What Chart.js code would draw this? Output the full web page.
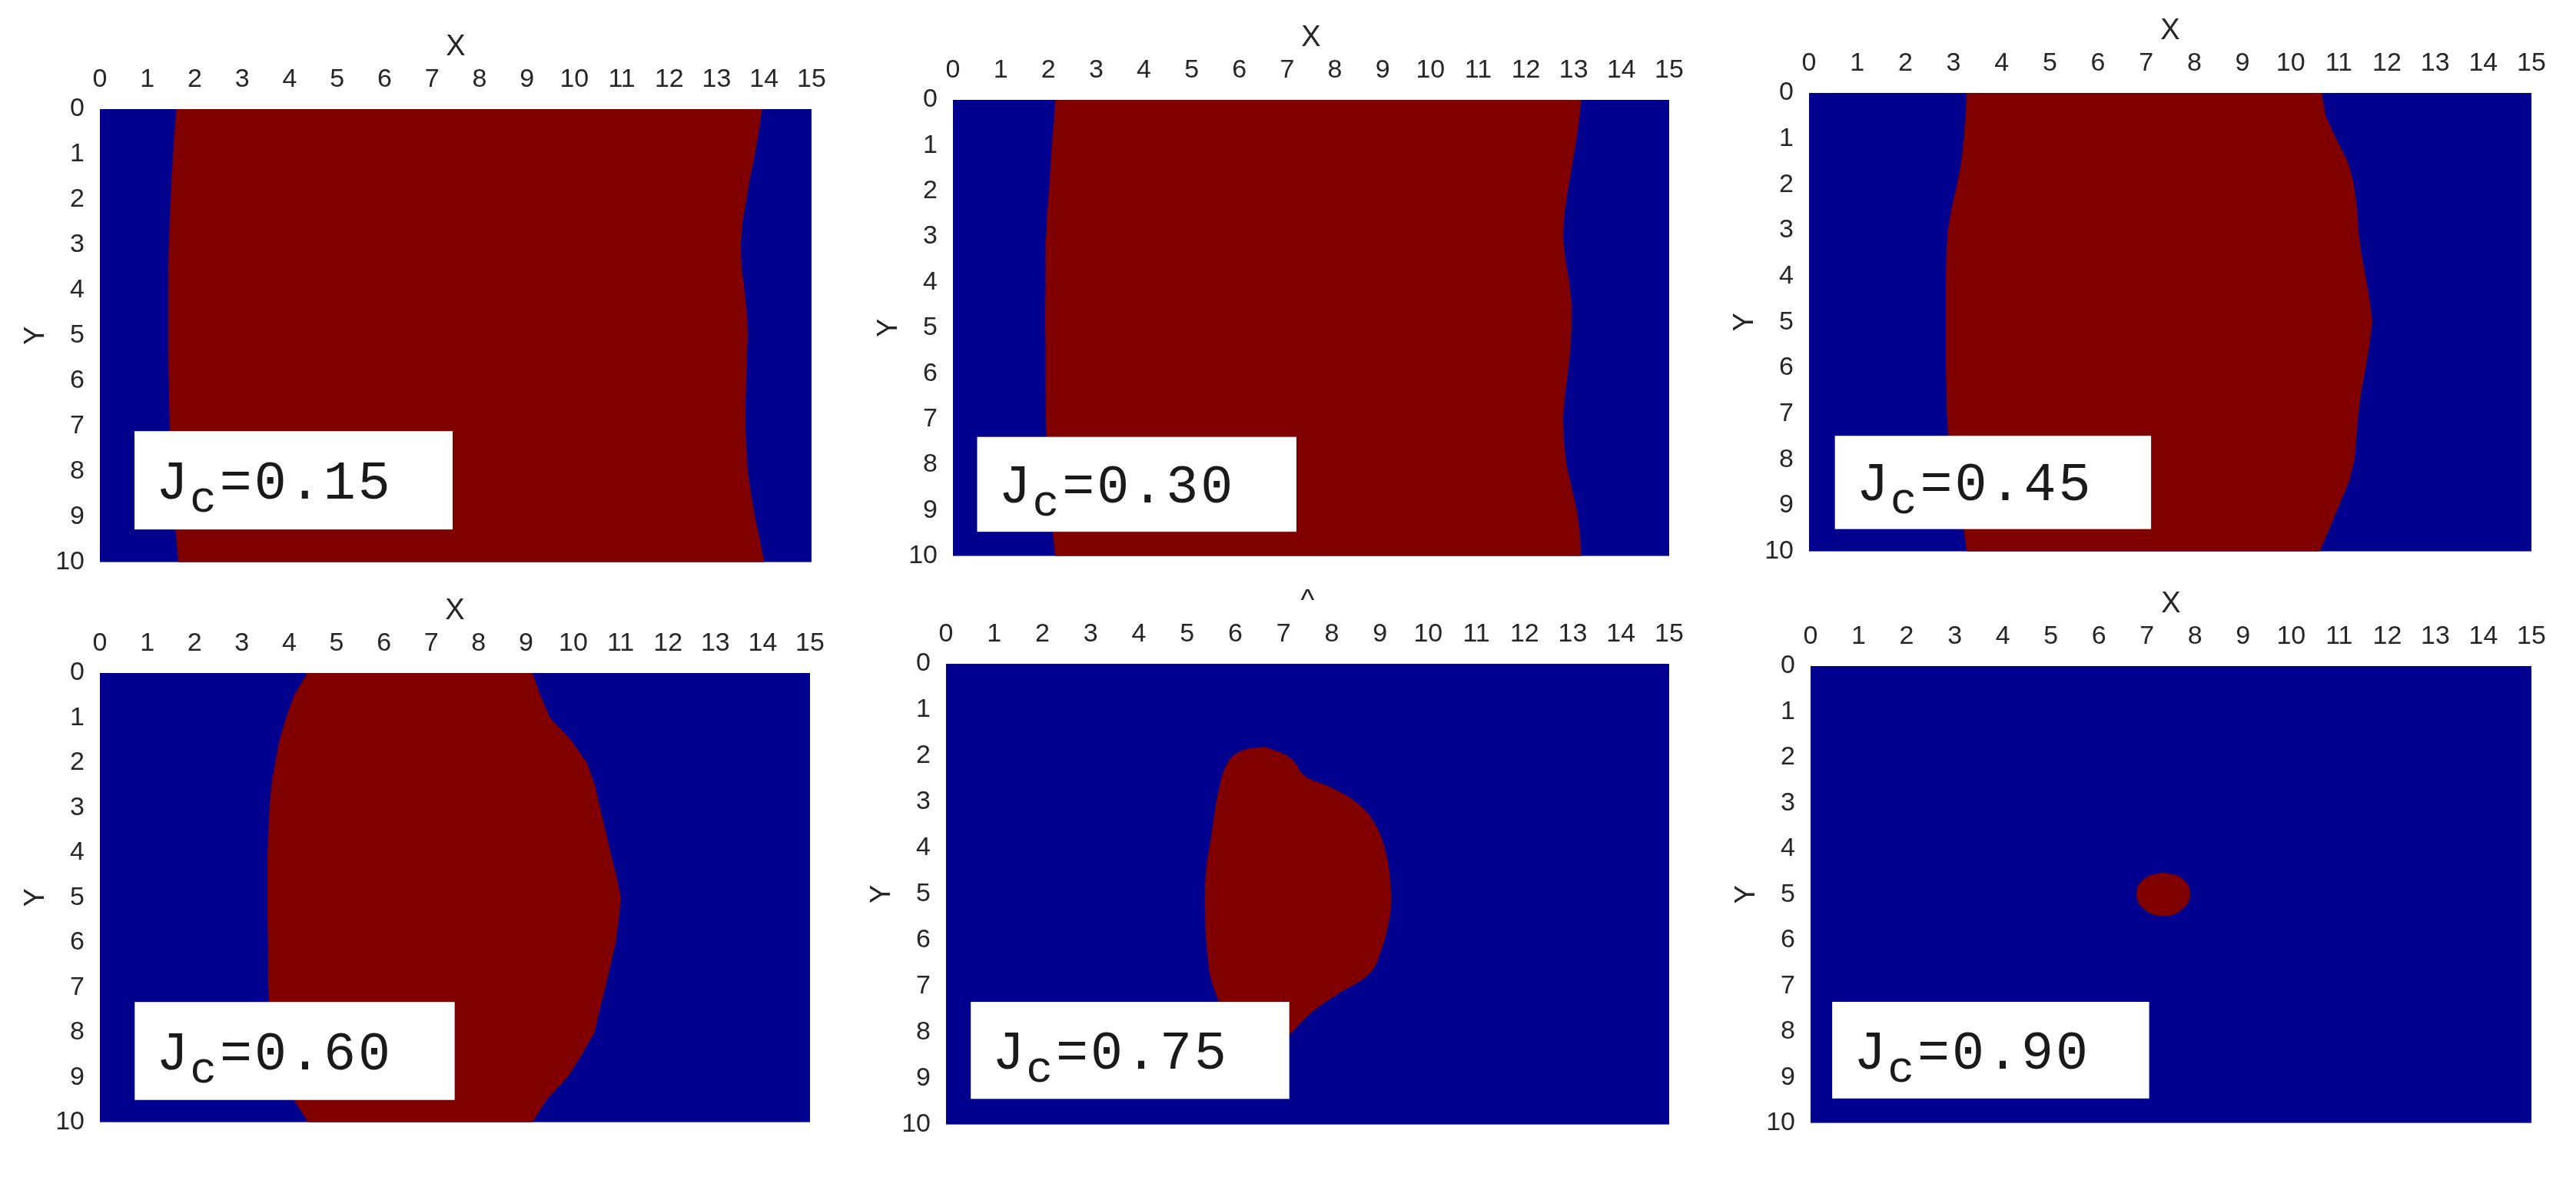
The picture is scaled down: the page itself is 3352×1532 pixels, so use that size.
<!DOCTYPE html>
<html>
<head>
<meta charset="utf-8">
<script src="https://cdn.jsdelivr.net/npm/chart.js@4.4.1/dist/chart.umd.min.js"></script>
<style>
  html, body { margin: 0; padding: 0; background: #fff; }
  #fig { position: relative; width: 3352px; height: 1532px; overflow: hidden; }
  #fig canvas { position: absolute; }
</style>
</head>
<body>
<div id="fig"></div>
<script>
// tick labels
const xTickValues = [0, 1, 2, 3, 4, 5, 6, 7, 8, 9, 10, 11, 12, 13, 14, 15];
const yTickValues = [0, 1, 2, 3, 4, 5, 6, 7, 8, 9, 10];

// one panel per critical value
const jcValues = [0.15, 0.30, 0.45, 0.60, 0.75, 0.90];
const xTitles = ['X', 'X', 'X', 'X', '^', 'X'];
const yTitle = 'Y';

// red band edges (x of left / right edge at each Y level)
const boundaryY = [0, 0.5, 1, 1.5, 2, 2.5, 3, 3.5, 4, 4.5, 5, 5.5, 6, 6.5, 7, 7.5, 8, 8.5, 9, 9.5, 10];

const left015  = [1.62, 1.58, 1.55, 1.52, 1.50, 1.48, 1.46, 1.45, 1.45, 1.45, 1.45, 1.45, 1.46, 1.47, 1.48, 1.50, 1.52, 1.55, 1.58, 1.62, 1.66];
const right015 = [13.95, 13.88, 13.80, 13.70, 13.62, 13.54, 13.50, 13.52, 13.58, 13.63, 13.65, 13.63, 13.62, 13.60, 13.60, 13.62, 13.65, 13.72, 13.80, 13.90, 14.00];

const left030  = [2.15, 2.12, 2.08, 2.05, 2.02, 1.98, 1.96, 1.95, 1.95, 1.94, 1.94, 1.95, 1.95, 1.95, 1.96, 1.97, 1.98, 2.00, 2.05, 2.10, 2.15];
const right030 = [13.15, 13.10, 13.03, 12.95, 12.87, 12.80, 12.77, 12.82, 12.90, 12.95, 12.95, 12.92, 12.87, 12.81, 12.77, 12.79, 12.84, 12.95, 13.06, 13.12, 13.15];

const left045  = [3.28, 3.26, 3.22, 3.17, 3.08, 2.97, 2.89, 2.86, 2.85, 2.85, 2.85, 2.85, 2.85, 2.86, 2.87, 2.90, 2.98, 3.06, 3.14, 3.22, 3.28];
const right045 = [10.64, 10.72, 10.94, 11.18, 11.31, 11.37, 11.40, 11.46, 11.55, 11.63, 11.69, 11.63, 11.55, 11.46, 11.40, 11.36, 11.32, 11.20, 11.00, 10.80, 10.60];

const left060  = [4.39, 4.11, 3.94, 3.80, 3.71, 3.63, 3.59, 3.57, 3.55, 3.55, 3.55, 3.55, 3.56, 3.57, 3.57, 3.58, 3.60, 3.68, 3.82, 4.10, 4.41];
const right060 = [9.13, 9.30, 9.50, 9.95, 10.28, 10.45, 10.56, 10.67, 10.78, 10.90, 11.00, 10.95, 10.89, 10.78, 10.67, 10.55, 10.44, 10.17, 9.87, 9.43, 9.13];

// closed outlines of the small red regions
const blob075X = [6.62, 7.14, 7.44, 7.96, 8.49, 8.84, 9.10, 9.22, 9.20, 9.01, 8.78, 8.19, 7.73, 7.38, 7.10, 6.60, 6.00, 5.55, 5.42, 5.38, 5.40, 5.50, 5.66, 5.86, 6.15, 6.62];
const blob075Y = [1.81, 2.05, 2.44, 2.68, 3.00, 3.39, 4.03, 4.90, 5.46, 6.25, 6.72, 7.12, 7.44, 7.76, 8.05, 8.20, 7.90, 7.00, 6.20, 5.30, 4.50, 3.80, 2.76, 2.13, 1.89, 1.81];

const spot090X = [7.34, 7.73, 7.89, 7.73, 7.34, 6.95, 6.79, 6.95, 7.34];
const spot090Y = [4.52, 4.66, 4.99, 5.32, 5.46, 5.32, 4.99, 4.66, 4.52];

const BLUE = '#00008f';
const RED = '#800000';
const INK = '#262626';
const AXIS_FONT = '"Liberation Sans Narrow", "Arial Narrow", "Liberation Sans", Arial, sans-serif';

function band(leftX, rightX) {
  const pts = boundaryY.map((y, i) => ({ x: leftX[i], y: y }));
  for (let i = boundaryY.length - 1; i >= 0; i--) {
    pts.push({ x: rightX[i], y: boundaryY[i] });
  }
  return pts;
}

function outline(xs, ys) {
  return xs.map((x, i) => ({ x: x, y: ys[i] }));
}

const regions = [
  { pts: band(left015, right015), tension: 0 },
  { pts: band(left030, right030), tension: 0 },
  { pts: band(left045, right045), tension: 0 },
  { pts: band(left060, right060), tension: 0 },
  { pts: outline(blob075X, blob075Y), tension: 0.4 },
  { pts: outline(spot090X, spot090Y), tension: 0.45 }
];

// plot area of each panel on the page: left, top, width, height
const frames = [
  [130, 142, 926, 612],
  [1240, 130, 932, 616],
  [2354, 121, 940, 619],
  [130, 876, 924, 607],
  [1231, 864, 941, 622],
  [2356, 867, 938, 617]
];
// white label box, as fractions of the plot area: x0, x1, y0, y1
const labelBoxes = [
  [0.0486, 0.4957, 0.711, 0.928],
  [0.0338, 0.4796, 0.739, 0.947],
  [0.0358, 0.4735, 0.748, 0.9515],
  [0.049, 0.4996, 0.7325, 0.9506],
  [0.0342, 0.4747, 0.734, 0.9445],
  [0.030, 0.4697, 0.735, 0.9465]
];

const PAD_L = 125, PAD_T = 120, PAD_R = 30, PAD_B = 10;

const background = {
  id: 'background',
  beforeDatasetsDraw(chart) {
    const { ctx, chartArea: a } = chart;
    ctx.save();
    ctx.fillStyle = BLUE;
    ctx.fillRect(a.left, a.top, a.width, a.height);
    ctx.restore();
  }
};

const jcLabel = {
  id: 'jcLabel',
  afterDatasetsDraw(chart, args, opts) {
    const { ctx, chartArea: a } = chart;
    const [fx0, fx1, fy0, fy1] = opts.box;
    const x0 = a.left + fx0 * a.width;
    const x1 = a.left + fx1 * a.width;
    const y0 = a.top + fy0 * a.height;
    const y1 = a.top + fy1 * a.height;
    ctx.save();
    ctx.fillStyle = '#ffffff';
    ctx.fillRect(x0, y0, x1 - x0, y1 - y0);
    ctx.fillStyle = '#1a1a1a';
    ctx.textBaseline = 'alphabetic';
    const big = '70px "Liberation Mono", "DejaVu Sans Mono", monospace';
    const small = '58px "Liberation Mono", "DejaVu Sans Mono", monospace';
    const base = y0 + 0.69 * (y1 - y0);
    let tx = x0 + 28;
    ctx.font = big;
    ctx.fillText('J', tx, base);
    tx += ctx.measureText('J').width;
    ctx.font = small;
    ctx.fillText('c', tx + 2, base + 17);
    tx += ctx.measureText('c').width + 6;
    ctx.font = big;
    const rest = '=' + opts.value.toFixed(2);
    // slightly wider pitch than the default mono advance
    for (const ch of rest) {
      ctx.fillText(ch, tx, base);
      tx += ctx.measureText(ch).width + 3;
    }
    ctx.restore();
  }
};

Chart.defaults.font.family = AXIS_FONT;
Chart.defaults.color = INK;

const fig = document.getElementById('fig');

frames.forEach(([L, T, W, H], i) => {
  const canvas = document.createElement('canvas');
  canvas.width = W + PAD_L + PAD_R;
  canvas.height = H + PAD_T + PAD_B;
  canvas.style.left = (L - PAD_L) + 'px';
  canvas.style.top = (T - PAD_T) + 'px';
  fig.appendChild(canvas);

  new Chart(canvas.getContext('2d'), {
    type: 'scatter',
    data: {
      datasets: [{
        label: 'Jc=' + jcValues[i].toFixed(2),
        data: regions[i].pts,
        showLine: true,
        fill: 'shape',
        backgroundColor: RED,
        borderColor: RED,
        borderWidth: 1,
        pointRadius: 0,
        tension: regions[i].tension
      }]
    },
    options: {
      responsive: false,
      animation: false,
      events: [],
      layout: { autoPadding: false, padding: { left: 0, top: 0, right: PAD_R, bottom: PAD_B } },
      plugins: {
        legend: { display: false },
        tooltip: { enabled: false },
        jcLabel: { box: labelBoxes[i], value: jcValues[i] }
      },
      scales: {
        x: {
          type: 'linear',
          position: 'top',
          min: 0,
          max: 15,
          afterBuildTicks: s => { s.ticks = xTickValues.map(v => ({ value: v })); },
          afterFit: s => { s.height = PAD_T; },
          grid: { display: false },
          border: { display: false },
          ticks: { font: { size: 34 }, color: INK, padding: 10, maxRotation: 0, autoSkip: false },
          title: { display: true, text: xTitles[i], font: { size: 38 }, color: INK, padding: { top: 17, bottom: 0 } }
        },
        y: {
          type: 'linear',
          reverse: true,
          min: 0,
          max: 10,
          afterBuildTicks: s => { s.ticks = yTickValues.map(v => ({ value: v })); },
          afterFit: s => { s.width = PAD_L; },
          grid: { display: false },
          border: { display: false },
          ticks: { font: { size: 34 }, color: INK, padding: 12, autoSkip: false },
          title: { display: true, text: yTitle, font: { size: 36 }, color: INK, padding: { top: 20, bottom: 0 } }
        }
      }
    },
    plugins: [background, jcLabel]
  });
});
</script>
</body>
</html>
